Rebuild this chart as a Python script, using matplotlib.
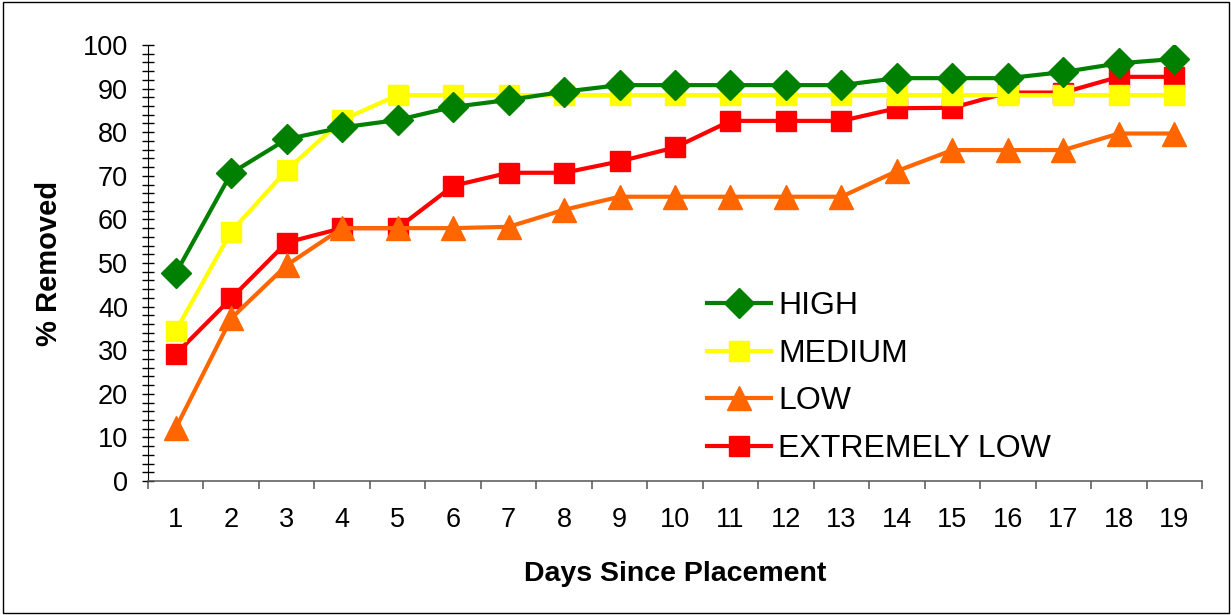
"""Removal over time by level."""

import matplotlib
matplotlib.use("Agg")
import matplotlib.pyplot as plt
from matplotlib.patches import Rectangle
from matplotlib.ticker import FixedLocator, MultipleLocator
import numpy as np

plt.rcParams["font.family"] = ["Liberation Sans", "DejaVu Sans"]

days = list(range(1, 20))

high = [47.6, 70.6, 78.4, 81.1, 82.8, 85.8, 87.4, 89.3, 90.8, 90.8,
        90.8, 90.8, 90.8, 92.4, 92.4, 92.4, 93.8, 95.8, 96.8]
medium = [34.4, 57.2, 71.3, 82.8, 88.5, 88.5, 88.5, 88.5, 88.5, 88.5,
          88.5, 88.5, 88.5, 88.5, 88.5, 88.5, 88.5, 88.5, 88.5]
low = [12.1, 37.3, 49.5, 58.0, 58.0, 58.0, 58.3, 62.2, 65.2, 65.2,
       65.2, 65.2, 65.2, 71.1, 75.9, 75.9, 75.9, 79.7, 79.7]
extremely_low = [29.1, 41.9, 54.7, 58.0, 58.0, 67.7, 70.7, 70.7, 73.3, 76.5,
                 82.6, 82.6, 82.6, 85.5, 85.6, 89.1, 89.1, 92.7, 92.7]

series = [
    ("HIGH", high, "#008000", "D", 15),
    ("MEDIUM", medium, "#FFFF00", "s", 14.5),
    ("LOW", low, "#FF6600", "^", 17),
    ("EXTREMELY LOW", extremely_low, "#FF0000", "s", 14.5),
]

fig = plt.figure(figsize=(12.31, 6.15), dpi=100)
ax = fig.add_axes([0.1202, 0.2179, 0.8563, 0.7089])

# draw in reverse so HIGH sits on top
for name, vals, color, marker, ms in reversed(series):
    ax.plot(days, vals, color=color, lw=3.0, marker=marker, ms=ms,
            mec=color, mfc=color, label=name, solid_joinstyle="miter")

ax.set_xlim(0.5, 19.5)
ax.set_ylim(0, 100)

# category axis: ticks between days, labels under each day
ax.xaxis.set_major_locator(FixedLocator(np.arange(0.5, 20.0, 1.0)))
ax.xaxis.set_minor_locator(FixedLocator(days))
ax.xaxis.set_major_formatter(plt.NullFormatter())
ax.xaxis.set_minor_formatter(plt.FuncFormatter(lambda v, p: f"{int(v)}"))
ax.tick_params(axis="x", which="major", direction="out", length=6,
               width=1.1, color="#555555")
ax.tick_params(axis="x", which="minor", length=0, pad=19, labelsize=19.5)

ax.yaxis.set_major_locator(MultipleLocator(10))
ax.yaxis.set_minor_locator(MultipleLocator(2))
ax.tick_params(axis="y", which="both", direction="inout", length=8.6,
               width=1.0, color="black")
ax.tick_params(axis="y", which="major", pad=10, labelsize=19.5)

for side in ("top", "right"):
    ax.spines[side].set_visible(False)
ax.spines["left"].set_color("black")
ax.spines["bottom"].set_color("#555555")
ax.spines["bottom"].set_linewidth(1.1)

ax.set_xlabel("Days Since Placement", fontsize=20.5, fontweight="bold",
              labelpad=20)
ax.set_ylabel("% Removed", fontsize=21, fontweight="bold", labelpad=14)

handles, labels = ax.get_legend_handles_labels()
ax.legend(handles[::-1], labels[::-1], loc="upper left",
          bbox_to_anchor=(0.53, 0.435), frameon=False, fontsize=23,
          handlelength=2.03, handletextpad=0.2, labelspacing=0.55,
          borderpad=0, borderaxespad=0)

fig.patches.append(Rectangle((3 / 1231, 2 / 615), 1226 / 1231, 611 / 615,
                             transform=fig.transFigure, fill=False,
                             edgecolor="black", lw=1.0))

fig.savefig("out.png", dpi=100)
